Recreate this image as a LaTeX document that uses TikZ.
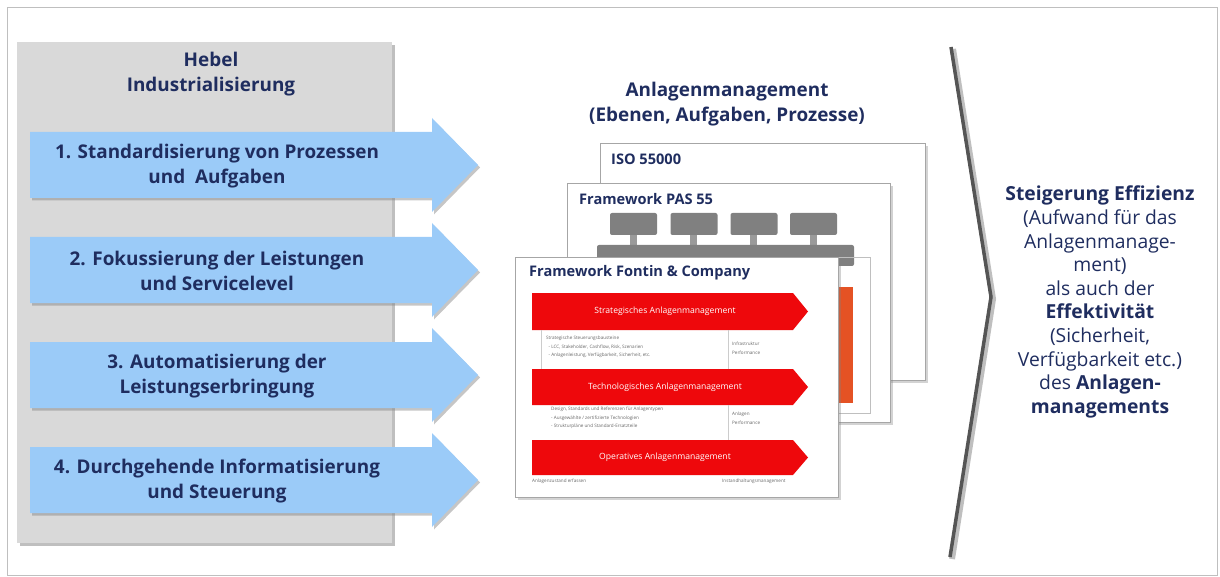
\documentclass[tikz,border=0pt]{standalone}
\usepackage{fontspec}
\setmainfont{Open Sans}
\usepackage{tikz}
\usetikzlibrary{shadows,positioning}
\definecolor{navy}{RGB}{31,45,95}
\definecolor{panelgray}{RGB}{217,217,217}
\definecolor{arrowblue}{RGB}{155,203,248}
\definecolor{chevred}{RGB}{238,8,12}
\definecolor{pasorange}{RGB}{228,82,36}
\definecolor{pasgray}{RGB}{128,128,128}
\definecolor{linegray}{RGB}{85,85,85}

\begin{document}
\begin{tikzpicture}[x=1pt,y=-1pt,line join=miter]
      \tikzstyle{every node}=[inner sep=0pt]
      \tikzstyle{bigtext}=[font=\fontsize{18.9}{25}\selectfont\bfseries,text=navy,align=center]
      \tikzstyle{sidetext}=[font=\fontsize{19.3}{23.6}\selectfont,text=navy,align=center]
      \tikzstyle{boxtitle}=[anchor=west,font=\fontsize{14.6}{16}\selectfont\bfseries,text=navy]
      \tikzstyle{sheet}=[draw=black!35,fill=white,drop shadow={shadow xshift=3pt,shadow yshift=-3pt,opacity=.35}]
      \tikzstyle{leverarrow}=[fill=arrowblue,drop shadow={shadow xshift=2pt,shadow yshift=-2.5pt,opacity=.45}]
      \tikzstyle{chevron}=[fill=chevred]
      \tikzstyle{chevtext}=[font=\fontsize{8.6}{10}\selectfont,text=white]
      \tikzstyle{tinytext}=[anchor=west,font=\fontsize{4.6}{8.6}\selectfont,text=black!60,align=left]
      \tikzstyle{pasbox}=[fill=pasgray,rounded corners=2pt,minimum width=47pt,minimum height=22pt]

      \useasboundingbox (0,0) rectangle (1220,577);
      \draw[black!25,line width=1pt] (7,8) rectangle (1217,575);

      % Hebel Industrialisierung
      \node[fill=panelgray,minimum width=375pt,minimum height=501pt,
            drop shadow={shadow xshift=3pt,shadow yshift=-3pt,opacity=.5}] (hebel) at (204.5,292.5) {};
      \node[bigtext] (hebeltitle) at (211,74) {Hebel\\Industrialisierung};

      \path[leverarrow] (30,132) -- (432,132) -- (432,118) -- (478,165) -- (432,212) -- (432,198) -- (30,198) -- cycle;
      \path[leverarrow] (30,237) -- (432,237) -- (432,223) -- (478,270) -- (432,317) -- (432,303) -- (30,303) -- cycle;
      \path[leverarrow] (30,342) -- (432,342) -- (432,328) -- (478,375) -- (432,422) -- (432,408) -- (30,408) -- cycle;
      \path[leverarrow] (30,447) -- (432,447) -- (432,433) -- (478,480) -- (432,527) -- (432,513) -- (30,513) -- cycle;

      \node[bigtext] (lever1) at (217,166) {1. Standardisierung von Prozessen\\und\ \ Aufgaben};
      \node[bigtext] (lever2) at (217,271) {2. Fokussierung der Leistungen\\und Servicelevel};
      \node[bigtext] (lever3) at (217,376) {3. Automatisierung der\\Leistungserbringung};
      \node[bigtext] (lever4) at (217,481) {4. Durchgehende Informatisierung\\und Steuerung};

      % Anlagenmanagement
      \node[bigtext] (amtitle) at (727,104) {Anlagenmanagement\\(Ebenen, Aufgaben, Prozesse)};

      \node[sheet,minimum width=325pt,minimum height=237pt] (iso) at (762.5,261.5) {};
      \node[boxtitle] (isotitle) at (611,159) {ISO 55000};

      \node[sheet,minimum width=323pt,minimum height=239pt] (pas) at (728.5,302.5) {};
      \node[boxtitle] (pastitle) at (579,199) {Framework PAS 55};
      \fill[pasgray!80] (630,234) rectangle (637,246);
      \fill[pasgray!80] (690,234) rectangle (697,246);
      \fill[pasgray!80] (750,234) rectangle (757,246);
      \fill[pasgray!80] (810,234) rectangle (817,246);
      \node[pasbox] (pas1) at (633.5,224) {};
      \node[pasbox] (pas2) at (694,224) {};
      \node[pasbox] (pas3) at (754,224) {};
      \node[pasbox] (pas4) at (813.5,224) {};
      \fill[pasgray,rounded corners=2pt] (597,245) rectangle (854,266);
      \draw[black!25] (600,257) rectangle (870,413);
      \fill[pasorange] (800,287) rectangle (853,403);

      \node[sheet,minimum width=323pt,minimum height=240pt] (fontin) at (676.5,377) {};
      \node[boxtitle] (fontintitle) at (529,273) {Framework Fontin \& Company};

      \fill[chevron] (532,293) -- (793,293) -- (808,311.5) -- (793,330) -- (532,330) -- cycle;
      \fill[chevron] (532,369) -- (793,369) -- (808,387) -- (793,405) -- (532,405) -- cycle;
      \fill[chevron] (532,440) -- (793,440) -- (808,457.5) -- (793,475) -- (532,475) -- cycle;
      \node[chevtext] (strat) at (665,311.5) {Strategisches Anlagenmanagement};
      \node[chevtext] (tech) at (665,387) {Technologisches Anlagenmanagement};
      \node[chevtext] (oper) at (665,457.5) {Operatives Anlagenmanagement};

      \draw[black!20] (541,330) -- (541,369);
      \draw[black!20] (728,330) -- (728,369);
      \draw[black!20] (728,405) -- (728,440);
      \node[tinytext] (strat-l) at (546,347) {Strategische Steuerungsbausteine\\\ \ - LCC, Stakeholder, Cashflow, Risk, Szenarien\\\ \ - Anlagenleistung, Verfügbarkeit, Sicherheit, etc.};
      \node[tinytext] (strat-r) at (732,348) {Infrastruktur\\Performance};
      \node[tinytext] (tech-l) at (551,418) {Design, Standards und Referenzen für Anlagentypen\\- Ausgewählte / zertifizierte Technologien\\- Strukturpläne und Standard-Ersatzteile};
      \node[tinytext] (tech-r) at (732,418) {Anlagen\\Performance};
      \node[tinytext] (oper-l) at (532,481) {Anlagenzustand erfassen};
      \node[tinytext] (oper-r) at (722,481) {Instandhaltungsmanagement};

      % Abschluss
      \coordinate (ctop) at (951,47);
      \coordinate (cmid) at (991,297);
      \coordinate (cbot) at (950,557);
      \draw[black!25,line width=6pt] ([xshift=2pt,yshift=-2pt]ctop) -- ([xshift=2pt,yshift=-2pt]cmid) -- ([xshift=2pt,yshift=-2pt]cbot);
      \draw[linegray,line width=3.5pt] (ctop) -- (cmid) -- (cbot);

      \node[sidetext] (result) at (1100,302) {\textbf{Steigerung Effizienz}\\(Aufwand für das\\Anlagenmanage-\\ment)\\als auch der\\\textbf{Effektivität}\\(Sicherheit,\\Verfügbarkeit etc.)\\des \textbf{Anlagen-}\\\textbf{managements}};

    \end{tikzpicture}
\end{document}
